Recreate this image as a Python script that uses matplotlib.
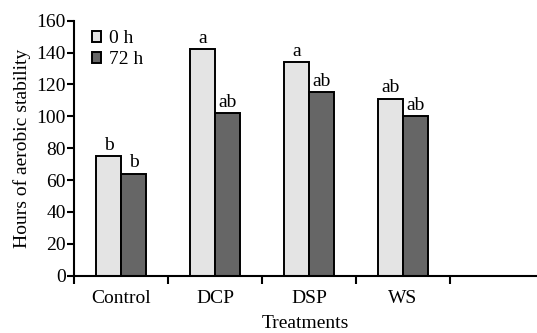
import matplotlib.pyplot as plt
import numpy as np

plt.rcParams['font.family'] = ['Liberation Serif', 'DejaVu Serif']

treatments = ['Control', 'DCP', 'DSP', 'WS']
hours_0h = [75, 142, 134, 111]
hours_72h = [64, 102, 115, 100]
letters_0h = ['b', 'a', 'a', 'ab']
letters_72h = ['b', 'ab', 'ab', 'ab']

fs = 14
fig = plt.figure(figsize=(5.37, 3.33), dpi=100)
ax = fig.add_axes([0.138, 0.172, 0.862, 0.766])

x = np.arange(len(treatments))
w = 0.265
b0 = ax.bar(x - w / 2, hours_0h, w, color='#e4e4e4', edgecolor='black', linewidth=1.4, label='0 h')
b1 = ax.bar(x + w / 2, hours_72h, w, color='#666666', edgecolor='black', linewidth=1.4, label='72 h')

for bars, lets in [(b0, letters_0h), (b1, letters_72h)]:
    for rect, t in zip(bars, lets):
        ax.text(rect.get_x() + rect.get_width() / 2, rect.get_height() + 1.5, t,
                ha='center', va='bottom', fontsize=fs)

ax.set_xlim(-0.5, 4.43)
ax.set_ylim(0, 160)
ax.set_yticks(range(0, 161, 20))
ax.set_xticks(x)
ax.set_xticklabels(treatments, fontsize=fs)
ax.set_xticks(np.arange(-0.5, 4, 1), minor=True)
ax.tick_params(axis='x', which='major', length=0, pad=10)
ax.tick_params(axis='x', which='minor', length=6, width=1.5, direction='out')
ax.tick_params(axis='y', length=5, width=1.5, direction='out', labelsize=fs, pad=1)

for s in ['top', 'right']:
    ax.spines[s].set_visible(False)
for s in ['left', 'bottom']:
    ax.spines[s].set_linewidth(1.5)

ax.set_ylabel('Hours of aerobic stability', fontsize=fs, labelpad=4)
ax.set_xlabel('Treatments', fontsize=fs, labelpad=6)

ax.legend(loc='upper left', bbox_to_anchor=(0.0, 1.03), frameon=False, fontsize=fs,
          handlelength=0.5, handleheight=0.5, handletextpad=0.4, labelspacing=0.2)

plt.savefig('out.png', dpi=100)
